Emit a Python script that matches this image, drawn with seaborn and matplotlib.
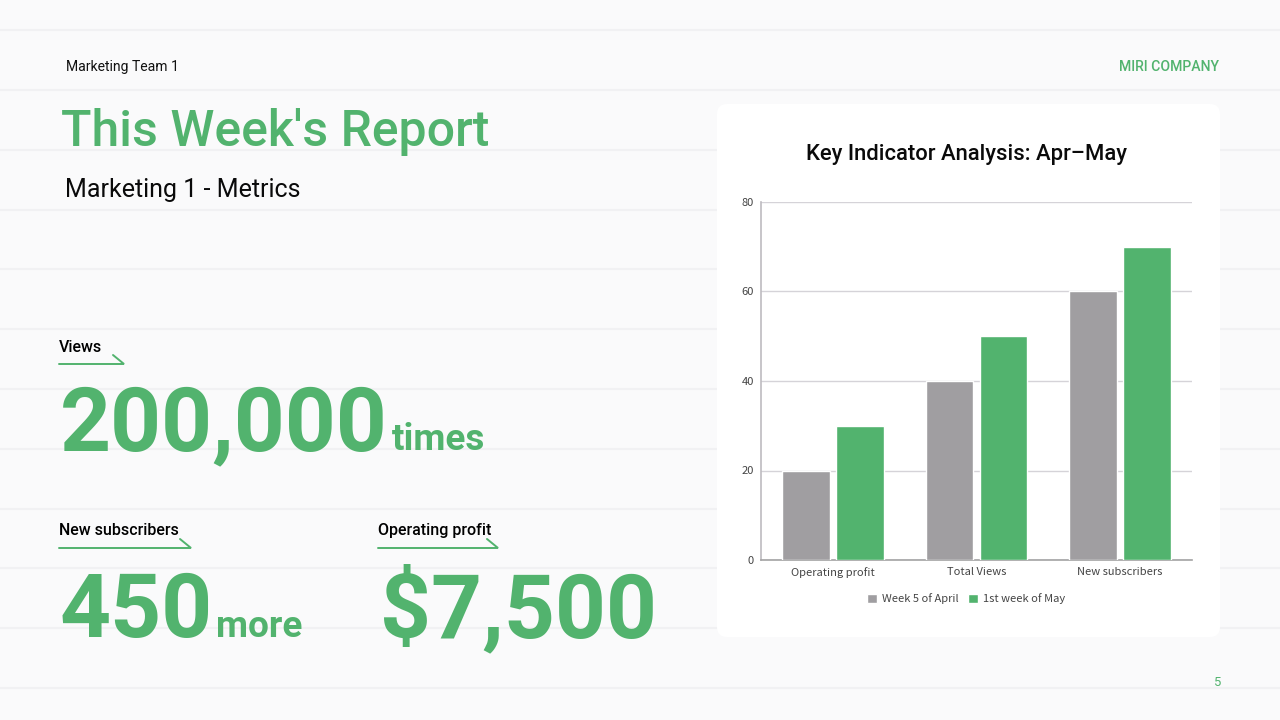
import matplotlib
matplotlib.use("Agg")
import matplotlib.pyplot as plt
from matplotlib.patches import FancyBboxPatch, Patch
import pandas as pd
import seaborn as sns

categories = ["Operating profit", "Total Views", "New subscribers"]
week5_april = [20, 40, 60]
week1_may = [30, 50, 70]
series_names = ["Week 5 of April", "1st week of May"]
y_ticks = [0, 20, 40, 60, 80]
band_rows = [30, 90, 150, 210, 269, 329, 389, 449, 509, 568, 628, 688]

GREEN = "#52B36E"
GREY = "#A09EA1"
BG = "#FAFAFB"
W, H = 1280, 720

sns.set_theme(style="white")
plt.rcParams["font.family"] = ["Roboto", "DejaVu Sans"]

fig = plt.figure(figsize=(12.8, 7.2), dpi=100, facecolor=BG)

# page decoration, in pixel coordinates
bg = fig.add_axes([0, 0, 1, 1], zorder=0)
bg.set_xlim(0, W)
bg.set_ylim(H, 0)
bg.axis("off")
for r in band_rows:
    bg.plot([0, W], [r, r], color="#F1F1F3", lw=1.6, solid_capstyle="butt")
bg.add_patch(FancyBboxPatch((723, 110), 491, 521,
                            boxstyle="round,pad=6,rounding_size=10",
                            fc="white", ec="none", zorder=3))

def label(x, y, s, size, color="#111111", weight="normal", ha="left", va="baseline", **kw):
    bg.text(x, y, s, fontsize=size * 0.72, color=color, fontweight=weight,
            ha=ha, va=va, zorder=5, **kw)

def underline(x0, x1, y):
    bg.plot([x0, x1, x1 - 11, ], [y, y, y - 9], color=GREEN, lw=1.4,
            solid_joinstyle="miter", zorder=5)

label(66, 71, "Marketing Team 1", 14)
label(1219, 71, "MIRI COMPANY", 14, color=GREEN, weight="medium", ha="right")
label(61, 146, "This Week's Report", 50, color=GREEN, weight="medium")
label(65, 197, "Marketing 1 - Metrics", 25, color="#0A0A0A")
label(1221, 686, "5", 13, color=GREEN, ha="right")

label(59, 352, "Views", 16, color="#000000", weight="medium")
underline(59, 124, 364)
label(59, 535, "New subscribers", 16, color="#000000", weight="medium")
underline(59, 191, 548)
label(378, 535, "Operating profit", 16, color="#000000", weight="medium")
underline(378, 498, 548)

label(60, 450, "200,000", 89, color=GREEN, weight="bold")
label(392, 450, "times", 37, color=GREEN, weight="bold")
label(60, 637, "450", 89, color=GREEN, weight="bold")
label(216, 637, "more", 37, color=GREEN, weight="bold")
label(380, 637, "$7,500", 89, color=GREEN, weight="bold")

# chart
ax = fig.add_axes([761 / W, 1 - 560 / H, (1192 - 761) / W, (560 - 202) / H], zorder=2)
ax.patch.set_alpha(0)
df = pd.DataFrame({
    "category": categories * 2,
    "value": week5_april + week1_may,
    "series": [series_names[0]] * 3 + [series_names[1]] * 3,
})
sns.barplot(data=df, x="category", y="value", hue="series", hue_order=series_names,
            palette=[GREY, GREEN], width=0.752, gap=0.112, saturation=1,
            legend=False, ax=ax, zorder=3)
ax.set_ylim(0, 80)
ax.set_yticks(y_ticks)
ax.set_xlabel("")
ax.set_ylabel("")
ax.yaxis.grid(True, color="#D5D3D8", lw=1)
ax.set_axisbelow(True)
for side in ["top", "right"]:
    ax.spines[side].set_visible(False)
ax.spines["left"].set_color("#BDBBC0")
ax.spines["bottom"].set_color("#A3A3A3")
ax.spines["left"].set_linewidth(1.2)
ax.spines["bottom"].set_linewidth(1.2)
ax.tick_params(axis="both", length=0, labelsize=8, labelcolor="#444444")
ax.tick_params(axis="y", pad=5)
ax.tick_params(axis="x", pad=5)
for t in ax.get_xticklabels() + ax.get_yticklabels():
    t.set_fontfamily(["Noto Sans CJK JP", "DejaVu Sans"])

fig.text(966 / W, 1 - 160 / H, "Key Indicator Analysis: Apr\u2013May", fontsize=22 * 0.72,
         color="#0A0A0A", fontweight="medium", ha="center", va="baseline", zorder=6)

handles = [Patch(facecolor=GREY, label=series_names[0]), Patch(facecolor=GREEN, label=series_names[1])]
ax.legend(handles=handles, loc="center", bbox_to_anchor=(966 / W, 1 - 599 / H),
          bbox_transform=fig.transFigure, ncol=2, frameon=False,
          prop={"family": ["Noto Sans CJK JP", "DejaVu Sans"], "size": 8},
          labelcolor="#444444", handlelength=0.9, handleheight=0.9, handletextpad=0.45,
          columnspacing=0.9, borderpad=0, borderaxespad=0)

fig.savefig("out.png", dpi=100, facecolor=BG)
